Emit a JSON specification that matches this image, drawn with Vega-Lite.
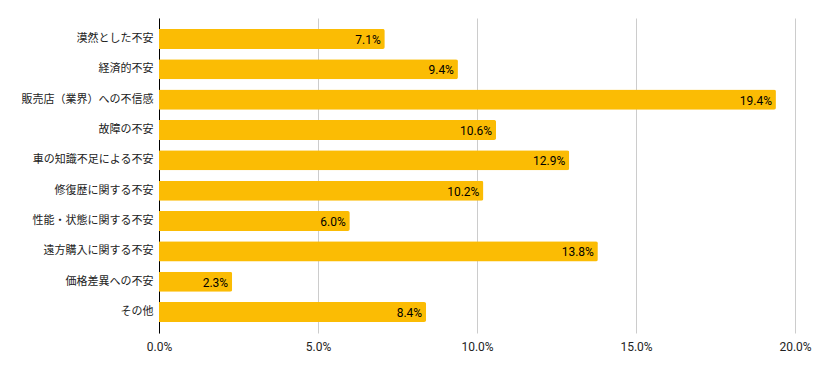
{
  "$schema": "https://vega.github.io/schema/vega-lite/v6.json",
  "width": 636,
  "height": 315,
  "autosize": {"type": "none"},
  "padding": {"left": 159, "top": 18, "right": 18, "bottom": 38},
  "background": "white",
  "config": {
    "view": {"stroke": null},
    "font": "Roboto, Noto Sans CJK JP"
  },
  "data": {
    "values": [
      {"item": "漠然とした不安", "value": 0.071},
      {"item": "経済的不安", "value": 0.094},
      {"item": "販売店（業界）への不信感", "value": 0.194},
      {"item": "故障の不安", "value": 0.106},
      {"item": "車の知識不足による不安", "value": 0.129},
      {"item": "修復歴に関する不安", "value": 0.102},
      {"item": "性能・状態に関する不安", "value": 0.060},
      {"item": "遠方購入に関する不安", "value": 0.138},
      {"item": "価格差異への不安", "value": 0.023},
      {"item": "その他", "value": 0.084}
    ]
  },
  "encoding": {
    "y": {
      "field": "item",
      "type": "nominal",
      "sort": null,
      "scale": {"paddingInner": 0.34, "paddingOuter": 0.36},
      "axis": {
        "title": null,
        "ticks": false,
        "domainColor": "#000000",
        "domainWidth": 1,
        "labelFont": "Noto Sans CJK JP",
        "labelFontSize": 11,
        "labelColor": "#222222",
        "labelPadding": 6,
        "grid": false
      }
    },
    "x": {
      "field": "value",
      "type": "quantitative",
      "scale": {"domain": [0, 0.2], "nice": false},
      "axis": {
        "title": null,
        "format": ".1%",
        "values": [0, 0.05, 0.1, 0.15, 0.2],
        "ticks": false,
        "domain": false,
        "grid": true,
        "gridColor": "#cccccc",
        "labelFontSize": 12,
        "labelColor": "#222222",
        "labelPadding": 8,
        "labelFlush": false,
        "labelBound": false,
        "labelOverlap": false,
        "labelFont": "Roboto"
      }
    }
  },
  "layer": [
    {
      "mark": {"type": "bar", "color": "#fbbc04", "cornerRadiusEnd": 2}
    },
    {
      "mark": {"type": "text", "align": "right", "baseline": "middle", "dx": -4, "dy": 1, "fontSize": 12, "font": "Roboto", "color": "#000000"},
      "encoding": {
        "text": {"field": "value", "type": "quantitative", "format": ".1%"}
      }
    }
  ]
}
